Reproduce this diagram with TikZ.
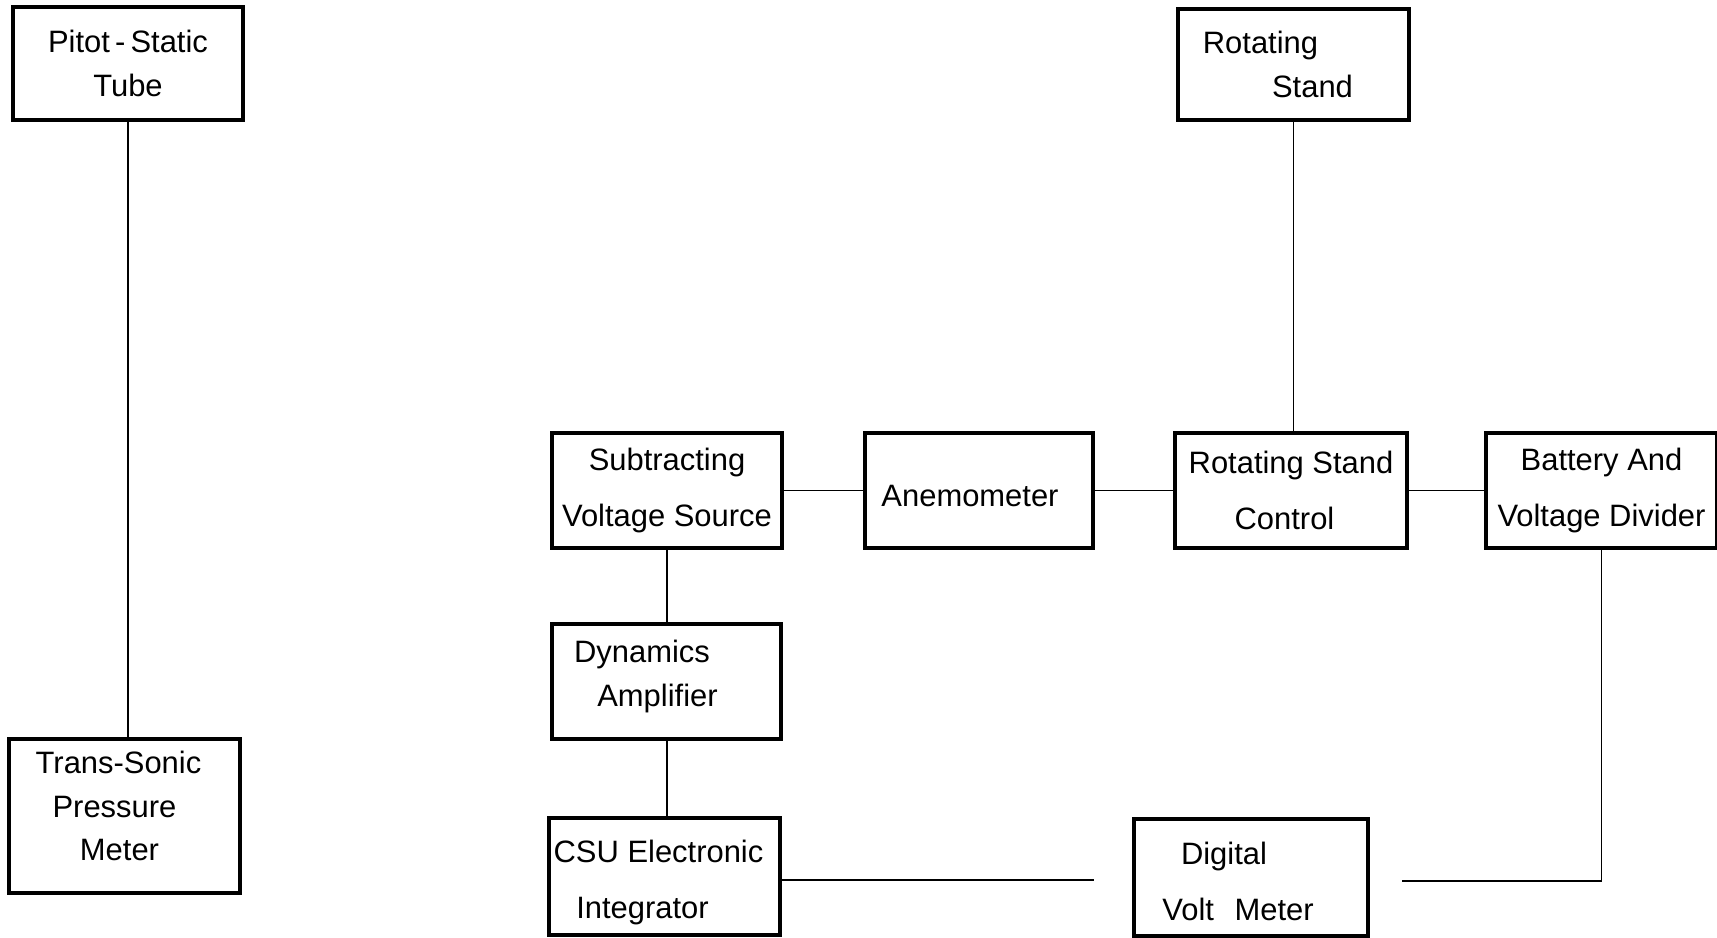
\documentclass[tikz,border=0pt]{standalone}
\usepackage{fontspec}
\setmainfont{Liberation Sans}
\newcommand{\lineat}[2]{\makebox[0pt]{\hspace*{#1cm}\hspace*{#1cm}#2}}

\begin{document}
\begin{tikzpicture}[blk/.style={draw,line width=0.9pt,minimum width=2.31cm,minimum height=1.15cm,inner sep=0pt,align=center,font=\fontsize{8.8}{16}\selectfont},
        tight/.style={font=\fontsize{8.8}{12.5}\selectfont},
        wire/.style={line width=0.5pt}]
        \useasboundingbox (0,0) rectangle (17.17,-9.38);
        \node[blk,tight,minimum width=2.30cm,minimum height=1.13cm] (pitot) at (1.28,-0.635) {Pitot\,-\,Static\\Tube};
        \node[blk,font=\fontsize{8.8}{12.3}\selectfont,minimum height=1.54cm] (sonic) at (1.245,-8.16) {\lineat{-0.06}{Trans-Sonic}\\\lineat{-0.10}{Pressure}\\\lineat{-0.05}{Meter}\rule[-0.2cm]{0pt}{0.2cm}};
        \node[blk,tight,minimum height=1.11cm] (stand) at (12.935,-0.645) {\lineat{-0.33}{Rotating}\\\lineat{0.19}{Stand}};
        \node[blk,minimum width=2.30cm] (subtract) at (6.67,-4.905) {Subtracting\\Voltage Source};
        \node[blk,minimum width=2.28cm] (anemo) at (9.79,-4.905) {\lineat{-0.09}{Anemometer}\rule{0pt}{0.33cm}};
        \node[blk,minimum width=2.32cm] (control) at (12.91,-4.905) {Rotating Stand\\\lineat{-0.065}{Control}};
        \node[blk] (battery) at (16.015,-4.905) {Battery And\\Voltage Divider};
        \node[blk,tight,minimum width=2.29cm] (dynamics) at (6.665,-6.815) {\lineat{-0.245}{Dynamics}\\\lineat{-0.09}{Amplifier}\rule[-0.17cm]{0pt}{0.17cm}};
        \node[blk,minimum height=1.17cm] (csu) at (6.645,-8.765) {\lineat{-0.06}{CSU Electronic}\rule{0pt}{0.34cm}\\\lineat{-0.22}{Integrator}};
        \node[blk,minimum width=2.34cm,minimum height=1.17cm] (dvm) at (12.51,-8.775) {\lineat{-0.27}{Digital}\rule{0pt}{0.30cm}\\\lineat{-0.13}{Volt\enspace\,Meter}};
        \coordinate (gapl) at (10.94,-8.80);
        \coordinate (gapr) at (14.02,-8.81);
        \draw[wire] (pitot.south) -- (pitot.south |- sonic.north);
        \draw[wire] (stand.south) -- (stand.south |- control.north);
        \draw[wire] (subtract) -- (anemo) -- (control) -- (battery);
        \draw[wire] (subtract.south) -- (subtract.south |- dynamics.north);
        \draw[wire] (subtract.south |- dynamics.south) -- (subtract.south |- csu.north);
        \draw[wire] (csu.east |- gapl) -- (gapl);
        \draw[wire] (gapr) -- (gapr -| battery.south) -- (battery.south);
    \end{tikzpicture}
\end{document}
